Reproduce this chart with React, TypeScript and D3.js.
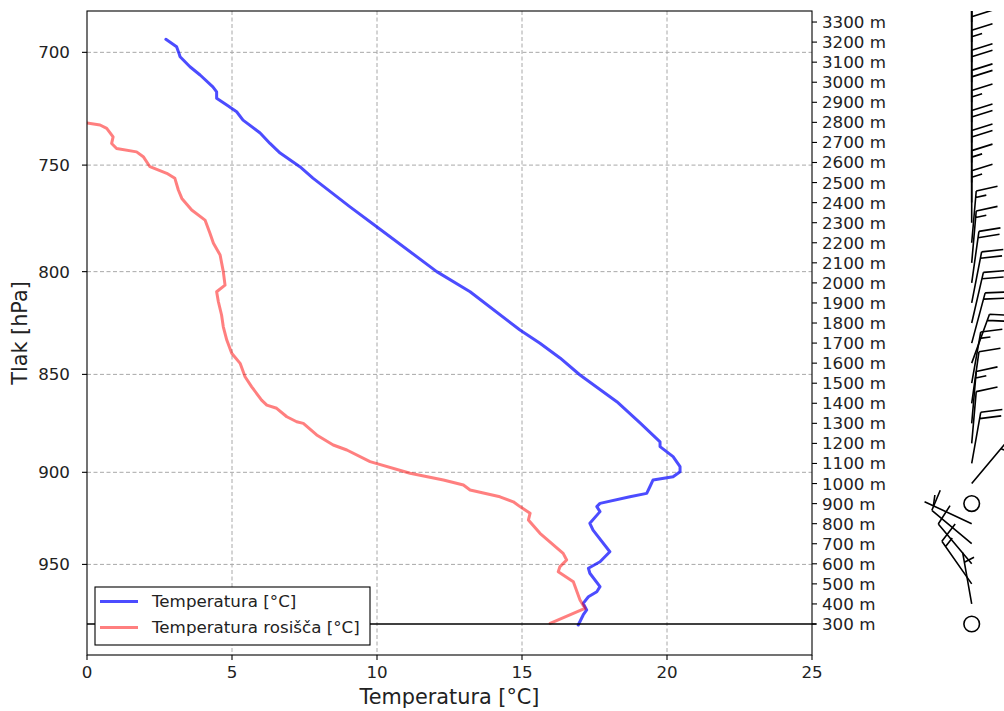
import React from "react";
import * as d3 from "d3";

// ---- Data ----
// Temperature profile: height (m) and temperature (°C)
const TEMP_HEIGHTS = [3214, 3177, 3145, 3127, 3077, 3036, 2977, 2952, 2920, 2886, 2853, 2811, 2747, 2695, 2647, 2579, 2522, 2379, 2280, 2056, 1956, 1765, 1699, 1626, 1541, 1408, 1302, 1208, 1184, 1134, 1084, 1059, 1034, 1018, 984, 951, 934, 901, 885, 860, 802, 768, 660, 610, 578, 553, 486, 461, 436, 403, 370, 345, 295];
const TEMP_VALUES = [2.72, 3.09, 3.17, 3.21, 3.55, 3.9, 4.34, 4.47, 4.47, 4.82, 5.16, 5.38, 5.97, 6.31, 6.66, 7.34, 7.79, 9.07, 9.99, 12.06, 13.21, 14.93, 15.62, 16.31, 17.0, 18.27, 19.07, 19.76, 19.76, 20.21, 20.45, 20.45, 20.21, 19.52, 19.41, 19.3, 18.72, 17.69, 17.58, 17.69, 17.34, 17.45, 18.03, 17.69, 17.29, 17.34, 17.69, 17.58, 17.29, 17.11, 17.23, 17.11, 16.94];

// Dew point profile
const DEW_HEIGHTS = [2797, 2787, 2770, 2728, 2695, 2670, 2653, 2629, 2579, 2546, 2521, 2463, 2421, 2363, 2313, 2247, 2197, 2139, 2056, 1989, 1956, 1906, 1840, 1781, 1715, 1649, 1599, 1532, 1482, 1416, 1391, 1375, 1333, 1308, 1300, 1242, 1192, 1167, 1109, 1051, 1018, 993, 968, 934, 909, 885, 852, 818, 752, 652, 619, 586, 561, 511, 420, 378, 353, 303];
const DEW_VALUES = [0.0, 0.45, 0.68, 0.9, 0.85, 1.02, 1.71, 1.94, 2.17, 2.75, 3.03, 3.15, 3.27, 3.61, 4.07, 4.24, 4.36, 4.59, 4.7, 4.76, 4.47, 4.53, 4.64, 4.7, 4.82, 4.99, 5.28, 5.45, 5.68, 6.02, 6.2, 6.54, 6.89, 7.23, 7.46, 7.92, 8.49, 8.96, 9.76, 11.14, 12.29, 12.98, 13.21, 14.24, 14.7, 14.93, 15.28, 15.22, 15.62, 16.42, 16.54, 16.31, 16.25, 16.77, 17.0, 17.17, 16.77, 15.97];

const X_TICKS = [0, 5, 10, 15, 20, 25];
const PRESSURE_TICKS = [700, 750, 800, 850, 900, 950];
const PRESSURE_TICK_HEIGHTS = [3149, 2587, 2056, 1544, 1056, 597];
const HEIGHT_TICKS = [300, 400, 500, 600, 700, 800, 900, 1000, 1100, 1200, 1300, 1400, 1500, 1600, 1700, 1800, 1900, 2000, 2100, 2200, 2300, 2400, 2500, 2600, 2700, 2800, 2900, 3000, 3100, 3200, 3300];
const SURFACE_HEIGHT = 300;

// Wind barbs: height (m), direction (deg, from), speed (kt)
const BARB_HEIGHTS = [300, 400, 500, 600, 700, 800, 900, 1000, 1100, 1200, 1300, 1400, 1500, 1600, 1700, 1800, 1900, 2000, 2100, 2200, 2300, 2400, 2500, 2600, 2700, 2800, 2900, 3000, 3100, 3200, 3300];
const BARB_DIRECTIONS = [0, 350, 325, 320, 310, 295, 0, 40, 10, 5, 5, 8, 10, 20, 15, 13, 11, 8, 5, 5, 0, 0, 0, 0, 0, 0, 0, 0, 0, 0, 0];
const BARB_SPEEDS = [0, 5, 15, 10, 10, 5, 0, 20, 20, 10, 15, 10, 15, 20, 20, 20, 20, 20, 15, 15, 15, 15, 20, 20, 15, 20, 20, 15, 20, 20, 20];

const LEGEND_LABELS = ["Temperatura [°C]", "Temperatura rosišča [°C]"];
const X_LABEL = "Temperatura [°C]";
const Y_LABEL = "Tlak [hPa]";

// ---- Layout ----
const W = 1004, H = 711;
const PL = 87, PR = 812, PT = 11, PB = 655;
const BARB_X = 971.7;
const FONT = "DejaVu Sans, sans-serif";
const BLUE = "rgba(0,0,255,0.7)";
const RED = "rgba(255,0,0,0.5)";
const TICK_FS = 16.7;
const LABEL_FS = 20.8;

const x = d3.scaleLinear().domain([0, 25]).range([PL, PR]);
const y = d3.scaleLinear().domain([145.5, 3355]).range([PB, PT]);

function barb(h: number, dir: number, spd: number, key: number) {
  const bx = BARB_X, by = y(h);
  const L = 52, fh = 0.4 * L, fw = 0.25 * L, sp = 0.125 * L;
  let s = Math.round(spd / 5) * 5;
  if (s < 5) {
    return <circle key={key} cx={bx} cy={by} r={0.15 * L} fill="none" stroke="black" strokeWidth={1.6} />;
  }
  const rad = (dir * Math.PI) / 180;
  const ux = Math.sin(rad), uy = -Math.cos(rad);
  const rx = -uy, ry = ux;
  const P = (t: number, o: number) => `${bx + ux * t + rx * o},${by + uy * t + ry * o}`;
  const flags = Math.floor(s / 50); s -= flags * 50;
  const full = Math.floor(s / 10); s -= full * 10;
  const half = s >= 5 ? 1 : 0;
  let d = `M${P(0, 0)}L${P(L, 0)}`;
  let pos = L;
  for (let i = 0; i < flags; i++) {
    d += `M${P(pos, 0)}L${P(pos - fw / 2, fh)}L${P(pos - fw, 0)}Z`;
    pos -= fw + sp;
  }
  for (let i = 0; i < full; i++) {
    d += `M${P(pos, 0)}L${P(pos + fw / 2, fh)}`;
    pos -= sp;
  }
  if (half) {
    if (flags === 0 && full === 0) pos -= 1.5 * sp;
    d += `M${P(pos, 0)}L${P(pos + fw / 4, fh / 2)}`;
  }
  return <path key={key} d={d} fill="none" stroke="black" strokeWidth={1.6} strokeLinejoin="round" />;
}

export default function App() {
  const line = d3
    .line<[number, number]>()
    .x((d) => x(d[1]))
    .y((d) => y(d[0]));
  const tempPts = TEMP_HEIGHTS.map((h, i) => [h, TEMP_VALUES[i]] as [number, number]);
  const dewPts = DEW_HEIGHTS.map((h, i) => [h, DEW_VALUES[i]] as [number, number]);

  return (
    <svg
      width={W}
      height={H}
      viewBox={`0 0 ${W} ${H}`}
      style={{ position: "absolute", left: 0, top: 0, background: "white" }}
      fontFamily={FONT}
    >
      <defs>
        <clipPath id="plotclip">
          <rect x={PL} y={PT} width={PR - PL} height={PB - PT} />
        </clipPath>
        <clipPath id="barbclip">
          <rect x={860} y={PT} width={W - 860} height={PB - PT} />
        </clipPath>
      </defs>
      <rect x={0} y={0} width={W} height={H} fill="white" />

      {/* grid */}
      <g stroke="#a8a8a8" strokeWidth={1} strokeDasharray="4,2.5">
        {X_TICKS.filter((t) => t > 0 && t < 25).map((t) => (
          <line key={"gx" + t} x1={x(t)} x2={x(t)} y1={PT} y2={PB} />
        ))}
        {PRESSURE_TICK_HEIGHTS.map((h, i) => (
          <line key={"gy" + i} x1={PL} x2={PR} y1={y(h)} y2={y(h)} />
        ))}
      </g>

      {/* curves */}
      <g clipPath="url(#plotclip)" fill="none" strokeLinejoin="round" strokeLinecap="round">
        <path d={line(tempPts) || ""} stroke={BLUE} strokeWidth={3} />
        <path d={line(dewPts) || ""} stroke={RED} strokeWidth={3} />
      </g>

      {/* surface line */}
      <line x1={PL} x2={PR + 4} y1={y(SURFACE_HEIGHT)} y2={y(SURFACE_HEIGHT)} stroke="black" strokeWidth={1.5} />

      {/* frame */}
      <rect x={PL} y={PT} width={PR - PL} height={PB - PT} fill="none" stroke="black" strokeWidth={1.1} />

      {/* ticks */}
      <g fontSize={TICK_FS} fill="#222">
        {X_TICKS.map((t) => (
          <g key={"xt" + t}>
            <line x1={x(t)} x2={x(t)} y1={PB} y2={PB + 5} stroke="black" strokeWidth={1.1} />
            <text x={x(t)} y={PB + 23} textAnchor="middle">{t}</text>
          </g>
        ))}
        {PRESSURE_TICKS.map((p, i) => (
          <g key={"yt" + p}>
            <line x1={PL - 5} x2={PL} y1={y(PRESSURE_TICK_HEIGHTS[i])} y2={y(PRESSURE_TICK_HEIGHTS[i])} stroke="black" strokeWidth={1.1} />
            <text x={PL - 17} y={y(PRESSURE_TICK_HEIGHTS[i]) + 6} textAnchor="end">{p}</text>
          </g>
        ))}
        {HEIGHT_TICKS.map((h) => (
          <g key={"ht" + h}>
            <line x1={PR} x2={PR + 5} y1={y(h)} y2={y(h)} stroke="black" strokeWidth={1.1} />
            <text x={PR + 10} y={y(h) + 6} textAnchor="start">{`${h} m`}</text>
          </g>
        ))}
      </g>

      {/* axis labels */}
      <text x={(PL + PR) / 2} y={704} textAnchor="middle" fontSize={LABEL_FS} fill="#222">{X_LABEL}</text>
      <text
        transform={`translate(27,${(PT + PB) / 2}) rotate(-90)`}
        textAnchor="middle"
        fontSize={LABEL_FS}
        fill="#222"
      >
        {Y_LABEL}
      </text>

      {/* legend */}
      <g>
        <rect x={95} y={587} width={275} height={58} fill="white" stroke="black" strokeWidth={1.1} />
        <line x1={100} x2={138} y1={601.5} y2={601.5} stroke={BLUE} strokeWidth={3} />
        <line x1={100} x2={138} y1={627.5} y2={627.5} stroke={RED} strokeWidth={3} />
        <text x={152} y={607} fontSize={TICK_FS} fill="#222">{LEGEND_LABELS[0]}</text>
        <text x={152} y={633} fontSize={TICK_FS} fill="#222">{LEGEND_LABELS[1]}</text>
      </g>

      {/* wind barbs */}
      <g clipPath="url(#barbclip)">
        {BARB_HEIGHTS.map((h, i) => barb(h, BARB_DIRECTIONS[i], BARB_SPEEDS[i], i))}
      </g>
    </svg>
  );
}
